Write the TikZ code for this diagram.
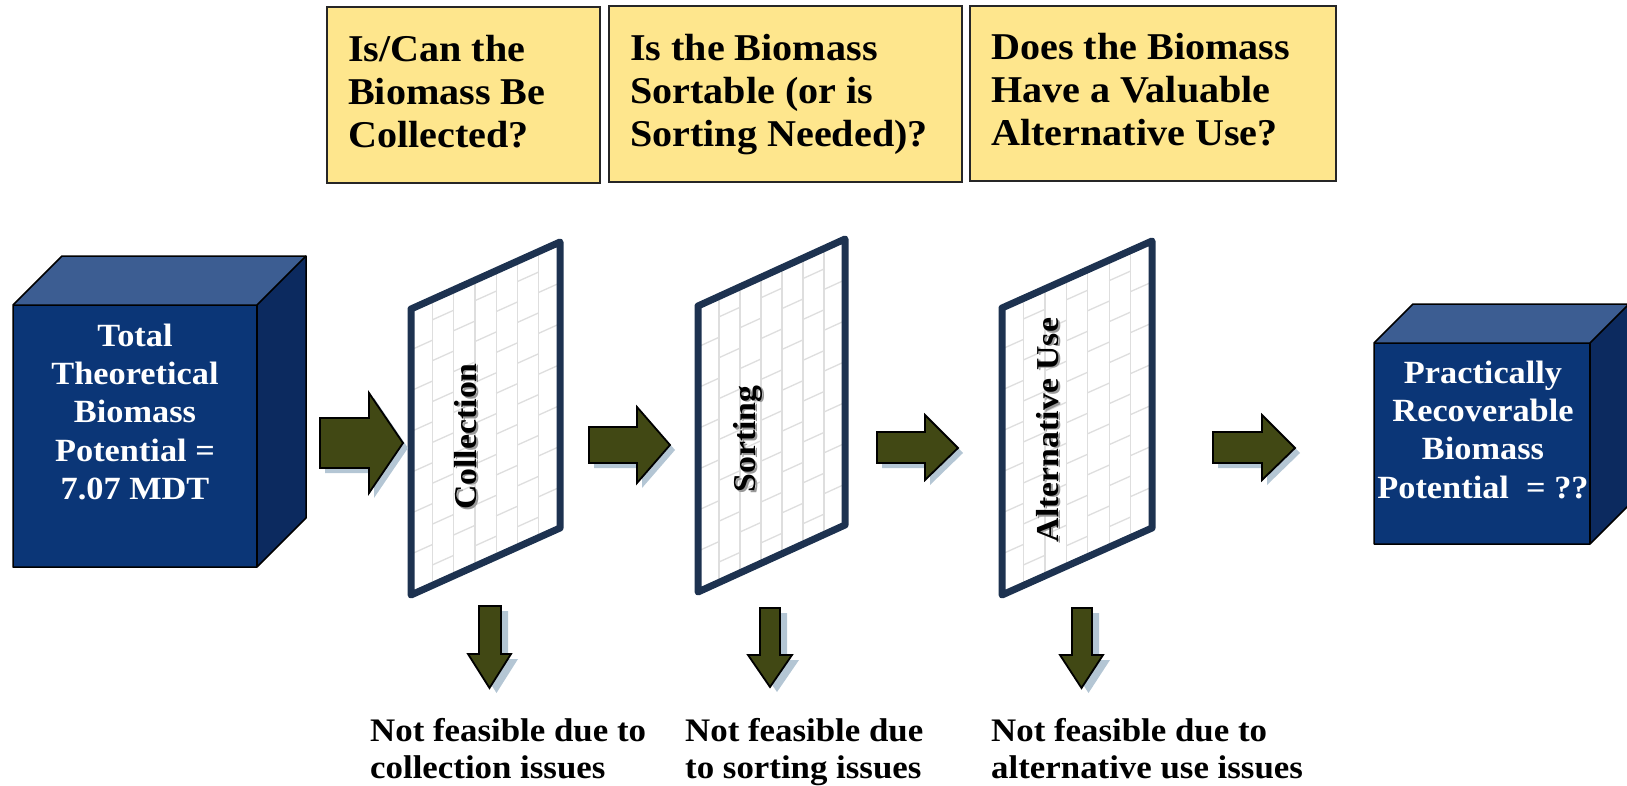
\documentclass[tikz,border=0pt]{standalone}
\usepackage{fontspec}
\setmainfont{Liberation Serif}[FakeStretch=1.06]
\usepackage{graphicx}
\usetikzlibrary{calc}
\definecolor{cubefront}{RGB}{11,54,119}
\definecolor{cubetop}{RGB}{60,93,146}
\definecolor{cubeside}{RGB}{12,42,95}
\definecolor{panelc}{RGB}{29,50,80}
\definecolor{gridc}{RGB}{222,222,222}
\definecolor{olive}{RGB}{65,72,20}
\definecolor{shadowc}{RGB}{180,198,212}
\definecolor{qyellow}{RGB}{254,230,141}
\tikzset{
  arrowblk/.style={fill=olive,draw=black,line width=1.8bp,line join=miter},
  cubeline/.style={draw=black,line width=1.5bp,line join=round},
  qbox/.style={draw=black!85,line width=1.3bp,fill=qyellow,inner sep=0pt},
  qtext/.style={anchor=north west,inner sep=0pt,align=left,font=\fontsize{38}{43}\selectfont\bfseries},
  cubetext/.style={anchor=north,inner sep=0pt,align=center,text=white,font=\fontsize{32.5}{38.3}\selectfont\bfseries},
  ptext/.style={rotate=90,inner sep=0pt,font=\fontsize{32}{36}\selectfont\bfseries},
  btext/.style={anchor=north west,inner sep=0pt,align=left,font=\fontsize{33}{37.5}\selectfont\bfseries},
}
% right block arrow: xl yt yb xh yht yhb xt ty
\newcommand{\rblk}[8]{%
  \begin{scope}[shift={(5,5)}]
    \fill[shadowc] (#1,#2) -- (#4,#2) -- (#4,#5) -- (#7,#8) -- (#4,#6) -- (#4,#3) -- (#1,#3) -- cycle;
  \end{scope}
  \draw[arrowblk] (#1,#2) -- (#4,#2) -- (#4,#5) -- (#7,#8) -- (#4,#6) -- (#4,#3) -- (#1,#3) -- cycle;}
% down block arrow: xl xr yt yh xhl xhr ty
\newcommand{\dblk}[7]{%
  \begin{scope}[shift={(7,5)}]
    \fill[shadowc] (#1,#3) -- (#2,#3) -- (#2,#4) -- (#6,#4) -- ({(#5+#6)/2},#7) -- (#5,#4) -- (#1,#4) -- cycle;
  \end{scope}
  \draw[arrowblk] (#1,#3) -- (#2,#3) -- (#2,#4) -- (#6,#4) -- ({(#5+#6)/2},#7) -- (#5,#4) -- (#1,#4) -- cycle;}
% cube: x0 y0 x1 y1 depth
\newcommand{\cubeblk}[5]{%
  \fill[cubetop] (#1,#2) -- ({#1+#5},{#2-#5}) -- ({#3+#5},{#2-#5}) -- (#3,#2) -- cycle;
  \fill[cubeside] (#3,#2) -- ({#3+#5},{#2-#5}) -- ({#3+#5},{#4-#5}) -- (#3,#4) -- cycle;
  \fill[cubefront] (#1,#2) rectangle (#3,#4);
  \draw[cubeline] (#1,#2) -- ({#1+#5},{#2-#5}) -- ({#3+#5},{#2-#5}) -- ({#3+#5},{#4-#5}) -- (#3,#4) -- (#1,#4) -- cycle;
  \draw[cubeline] (#1,#2) -- (#3,#2) -- ({#3+#5},{#2-#5});
  \draw[cubeline] (#3,#2) -- (#3,#4);}
% panel: blx bly ux uy height
\newcommand{\gridpanel}[5]{%
  \begin{scope}[shift={(#1,#2)},x={(#3bp,#4bp)},y={(0bp,#5bp)}]
    \fill[white] (0,0) -- (1,0) -- (1,1) -- (0,1) -- cycle;
    \begin{scope}
      \clip (0,0) -- (1,0) -- (1,1) -- (0,1) -- cycle;
      \foreach \i in {1,...,6} \draw[gridc,line width=1.3bp] (\i/7,0) -- (\i/7,1);
      \foreach \j in {0,...,6} {
        \foreach \k in {0,...,7} {
          \pgfmathsetmacro\vv{(\k+0.5*mod(\j,2))/7}
          \draw[gridc,line width=1.3bp] (\j/7,\vv) -- ({(\j+1)/7},\vv);
        }
      }
    \end{scope}
    \draw[panelc,line width=7bp,line join=round] (0,0) -- (1,0) -- (1,1) -- (0,1) -- cycle;
  \end{scope}}
\begin{document}
\begin{tikzpicture}[x=1bp,y=-1bp]
\useasboundingbox (0,0) rectangle (1627,786);

% question boxes
\node[qbox,minimum width=273bp,minimum height=176bp] (q1) at (463.5,95) {};
\node[qbox,minimum width=353bp,minimum height=176bp] (q2) at (785.5,94) {};
\node[qbox,minimum width=366bp,minimum height=175bp] (q3) at (1153,93.5) {};
\node[qtext] (q1t) at (348,35) {Is/Can the\\Biomass Be\\Collected?};
\node[qtext] (q2t) at (630,34) {Is the Biomass\\Sortable (or is\\Sorting Needed)?};
\node[qtext] (q3t) at (991,33) {Does the Biomass\\Have a Valuable\\Alternative Use?};

% cubes
\cubeblk{13}{305}{257}{567}{49}
\cubeblk{1374}{343}{1590}{544}{39}
\node[cubetext] (total) at (135,324) {Total\\Theoretical\\Biomass\\Potential =\\7.07 MDT};
\node[cubetext] (pract) at (1483,361) {Practically\\Recoverable\\Biomass\\Potential~~=~??};

% panels
\gridpanel{411}{595}{149}{67}{286}
\gridpanel{698}{592}{147}{67}{286}
\gridpanel{1002}{595}{150}{67}{287}
\node[ptext,text=black!40] (c1s) at (467.5,438) {Collection};
\node[ptext] (c1) at (465.5,436.5) {Collection};
\node[ptext,text=black!40] (c2s) at (749.5,440.5) {Sorting};
\node[ptext] (c2) at (747.5,439) {Sorting};
\node[ptext,text=black!40] (c3s) at (1050,431.5) {Alternative Use};
\node[ptext] (c3) at (1048,430) {Alternative Use};

% right arrows
\rblk{320}{418}{468}{369}{393}{493}{403}{443}
\rblk{589}{427}{463}{637}{407}{483}{670}{445}
\rblk{877}{432}{463}{925}{415}{480}{958}{448}
\rblk{1213}{432}{463}{1262}{415}{480}{1295}{448}

% down arrows
\dblk{479}{501}{606}{654}{468}{511}{688}
\dblk{760}{780}{608}{655}{748}{792}{687}
\dblk{1072}{1092}{608}{655}{1060}{1103}{688}

% bottom texts
\node[btext] (b1) at (370,718) {Not feasible due to\\collection issues};
\node[btext] (b2) at (685,718) {Not feasible due\\to sorting issues};
\node[btext] (b3) at (991,718) {Not feasible due to\\alternative use issues};
\end{tikzpicture}
\end{document}
